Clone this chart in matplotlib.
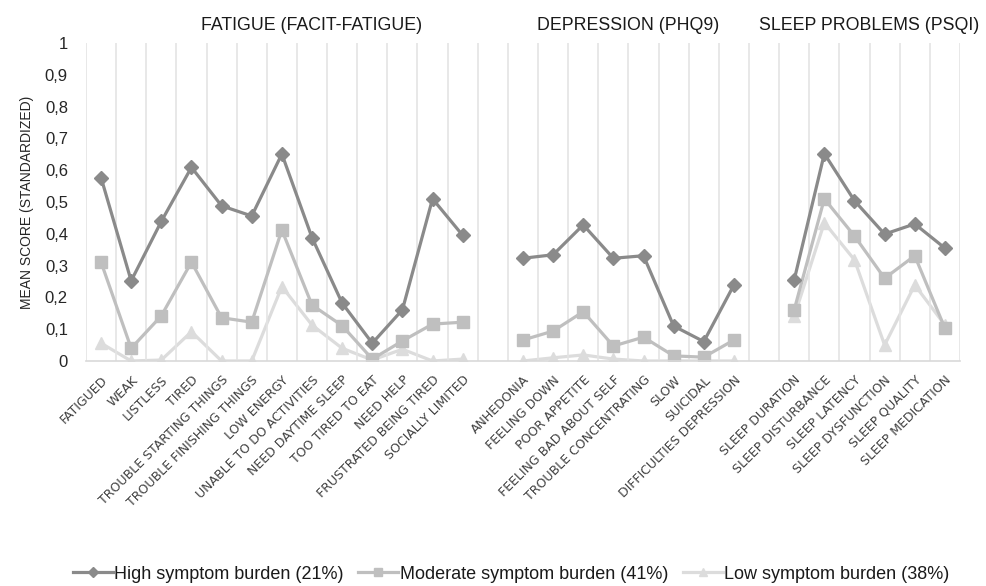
import matplotlib.pyplot as plt
import numpy as np

# Data
fatigue_items = ["FATIGUED", "WEAK", "LISTLESS", "TIRED", "TROUBLE STARTING THINGS",
                 "TROUBLE FINISHING THINGS", "LOW ENERGY", "UNABLE TO DO ACTIVITIES",
                 "NEED DAYTIME SLEEP", "TOO TIRED TO EAT", "NEED HELP",
                 "FRUSTRATED BEING TIRED", "SOCIALLY LIMITED"]
depression_items = ["ANHEDONIA", "FEELING DOWN", "POOR APPETITE", "FEELING BAD ABOUT SELF",
                    "TROUBLE CONCENTRATING", "SLOW", "SUICIDAL", "DIFFICULTIES DEPRESSION"]
sleep_items = ["SLEEP DURATION", "SLEEP DISTURBANCE", "SLEEP LATENCY",
               "SLEEP DYSFUNCTION", "SLEEP QUALITY", "SLEEP MEDICATION"]
group_titles = ["FATIGUE (FACIT-FATIGUE)", "DEPRESSION (PHQ9)", "SLEEP PROBLEMS (PSQI)"]

high_fatigue = [0.577, 0.252, 0.439, 0.609, 0.488, 0.456, 0.651, 0.388, 0.182, 0.056, 0.161, 0.510, 0.395]
mod_fatigue = [0.311, 0.040, 0.142, 0.311, 0.136, 0.122, 0.412, 0.176, 0.111, 0.006, 0.063, 0.116, 0.122]
low_fatigue = [0.056, 0.000, 0.003, 0.092, 0.000, 0.000, 0.234, 0.113, 0.040, 0.003, 0.037, 0.000, 0.006]

high_depression = [0.323, 0.334, 0.428, 0.323, 0.331, 0.110, 0.061, 0.239]
mod_depression = [0.066, 0.094, 0.155, 0.047, 0.075, 0.016, 0.012, 0.066]
low_depression = [0.000, 0.010, 0.019, 0.006, 0.000, 0.000, 0.000, 0.000]

high_sleep = [0.255, 0.652, 0.504, 0.399, 0.431, 0.355]
mod_sleep = [0.161, 0.510, 0.393, 0.260, 0.331, 0.103]
low_sleep = [0.140, 0.435, 0.318, 0.050, 0.239, 0.113]

series_names = ["High symptom burden (21%)", "Moderate symptom burden (41%)", "Low symptom burden (38%)"]

groups = [fatigue_items, depression_items, sleep_items]
values = [
    [high_fatigue, high_depression, high_sleep],
    [mod_fatigue, mod_depression, mod_sleep],
    [low_fatigue, low_depression, low_sleep],
]
colors = ["#8a8a8a", "#bfbfbf", "#dcdcdc"]
markers = ["D", "s", "^"]
msizes = [7, 8, 8.5]

# x positions: one empty slot between groups
positions = []
start = 0
for items in groups:
    positions.append(np.arange(start, start + len(items)))
    start += len(items) + 1
n_slots = start - 1

fig = plt.figure(figsize=(9.87, 5.86), dpi=100)
ax = fig.add_axes([0.0871, 0.384, 0.8855, 0.5426])

for s in range(3):
    for g in range(3):
        ax.plot(positions[g], values[s][g], color=colors[s], marker=markers[s],
                markersize=msizes[s], linewidth=2.3, zorder=3 - s,
                label=series_names[s] if g == 0 else None)

ax.set_xlim(-0.5, n_slots - 0.5)
ax.set_ylim(0, 1)
ax.set_yticks(np.arange(0, 1.01, 0.1))
ax.set_yticklabels(["0"] + [f"0,{i}" for i in range(1, 10)] + ["1"], fontsize=12,
                   family="Liberation Sans", color="#262626")

all_pos = np.concatenate(positions)
all_labels = fatigue_items + depression_items + sleep_items
ax.set_xticks(all_pos)
ax.set_xticklabels(all_labels, rotation=45, ha="right", rotation_mode="anchor",
                   fontsize=9, family="DejaVu Sans", color="#404040")
ax.set_xticks(np.arange(-0.5, n_slots, 1.0), minor=True)
ax.grid(True, which="minor", axis="x", color="#e4e4e4", linewidth=1.2, zorder=0)
ax.tick_params(axis="both", which="both", length=0)
ax.tick_params(axis="x", pad=9)
ax.tick_params(axis="y", pad=13)
for side in ["top", "right", "left"]:
    ax.spines[side].set_visible(False)
ax.spines["bottom"].set_color("#d9d9d9")
ax.spines["bottom"].set_linewidth(1.2)

ax.set_ylabel("MEAN SCORE (STANDARDIZED)", fontsize=10, family="Liberation Sans",
              color="#262626", labelpad=8)

title_x = [7.0, 13.5 + len(depression_items) / 2, 23.0 + 2.5]
for tx, title in zip(title_x, group_titles):
    ax.text(tx, 1.055, title, transform=ax.get_xaxis_transform(), ha="center",
            va="center", fontsize=12.8, family="Liberation Sans", color="#1a1a1a")

fig.legend(loc="center", bbox_to_anchor=(0.518, 0.02), ncol=3, frameon=False,
           prop={"family": "Liberation Sans", "size": 13}, handlelength=2.2,
           handletextpad=0.1, columnspacing=0.8, markerscale=0.7,
           labelcolor="#1a1a1a")

fig.savefig("out.png", dpi=100)
